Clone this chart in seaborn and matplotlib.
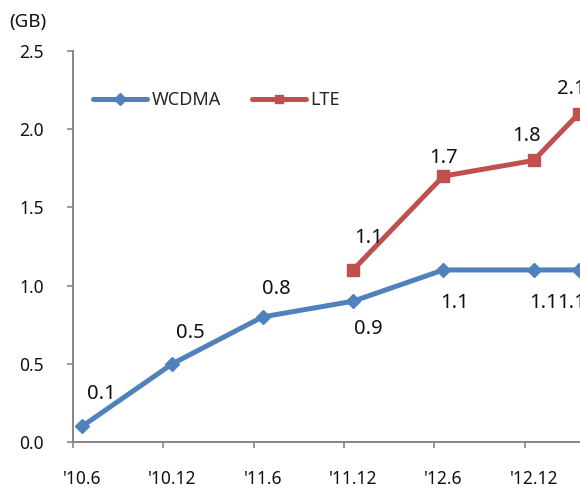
import matplotlib
matplotlib.use("Agg")
import matplotlib.pyplot as plt
import seaborn as sns
import pandas as pd
from matplotlib.ticker import FixedLocator

# Monthly average data traffic per subscriber (GB)
months = [0, 6, 12, 18, 24, 30, 33]          # months since June 2010
tick_labels = ["'10.6", "'10.12", "'11.6", "'11.12", "'12.6", "'12.12"]
wcdma = [0.1, 0.5, 0.8, 0.9, 1.1, 1.1, 1.1]
lte_months = [18, 24, 30, 33]
lte = [1.1, 1.7, 1.8, 2.1]

blue = "#4F81BD"
red = "#C0504D"
grey = "#868686"

sns.set_theme(style="white")
plt.rcParams["font.family"] = ["Noto Sans", "DejaVu Sans"]

W, H = 580, 488
fig = plt.figure(figsize=(W / 100, H / 100), dpi=100)

# plot area in pixels: left spine at 73, bottom at 442, top at 51; runs past the right edge
left_px, bottom_px, top_px, right_px = 73, 442, 51, 624
ax = fig.add_axes([left_px / W, (H - bottom_px) / H,
                   (right_px - left_px) / W, (bottom_px - top_px) / H])

df_w = pd.DataFrame({"month": months, "GB": wcdma})
df_l = pd.DataFrame({"month": lte_months, "GB": lte})

sns.lineplot(data=df_w, x="month", y="GB", ax=ax, color=blue, lw=3.6,
             marker="D", markersize=7.5, markeredgewidth=1, markeredgecolor=blue,
             label="WCDMA", clip_on=False, zorder=3)
sns.lineplot(data=df_l, x="month", y="GB", ax=ax, color=red, lw=3.6,
             marker="s", markersize=8, markeredgewidth=1, markeredgecolor=red,
             label="LTE", clip_on=False, zorder=3)

ax.set_xlim(-0.6, 36)
ax.set_ylim(0, 2.5)

# value labels (offsets in pixels)
w_off = [(19, 32), (18, 31), (14, 28), (15, -28), (11, -33), (10, -33), (-7, -33)]
l_off = [(16, 32), (0, 18), (-7, 24), (-8, 25)]
for xv, yv, off in zip(months, wcdma, w_off):
    ax.annotate(f"{yv:.1f}", (xv, yv), xytext=off, textcoords="offset pixels",
                ha="center", va="center", fontsize=14.5, color="#111111",
                annotation_clip=False)
for xv, yv, off in zip(lte_months, lte, l_off):
    ax.annotate(f"{yv:.1f}", (xv, yv), xytext=off, textcoords="offset pixels",
                ha="center", va="center", fontsize=14.5, color="#111111",
                annotation_clip=False)

# axes styling
for s in ["top", "right"]:
    ax.spines[s].set_visible(False)
for s in ["left", "bottom"]:
    ax.spines[s].set_color(grey)
    ax.spines[s].set_linewidth(1.4)

ax.set_yticks([0, 0.5, 1.0, 1.5, 2.0, 2.5])
ax.set_yticklabels([f"{v:.1f}" for v in [0, 0.5, 1.0, 1.5, 2.0, 2.5]])
ax.tick_params(axis="y", which="major", direction="out", length=4.5, width=1.2,
               color=grey, pad=16.5, labelsize=12.5, labelcolor="#111111", left=True)

# category labels under each point, tick marks slightly to the left
ax.xaxis.set_major_locator(FixedLocator(months[:len(tick_labels)]))
ax.set_xticklabels(tick_labels)
ax.xaxis.set_minor_locator(FixedLocator([m - 0.6 for m in months[:len(tick_labels)]]))
ax.tick_params(axis="x", which="major", length=0, pad=20.5, labelsize=12.5,
               labelcolor="#111111")
ax.tick_params(axis="x", which="minor", direction="out", length=4.5, width=1.2,
               color=grey, bottom=True)
ax.set_xlabel("")
ax.set_ylabel("")

fig.text(9 / W, 1 - 22 / H, "(GB)", fontsize=13.5, ha="left", va="center",
         color="#111111")

leg = ax.legend(loc="center left", bbox_to_anchor=(93 / W, 1 - 100 / H),
                bbox_transform=fig.transFigure, ncol=2, frameon=False,
                fontsize=13, handlelength=3.0, handletextpad=0.25,
                columnspacing=1.7, borderpad=0, borderaxespad=0, markerscale=0.75)

fig.savefig("out.png", dpi=100)
